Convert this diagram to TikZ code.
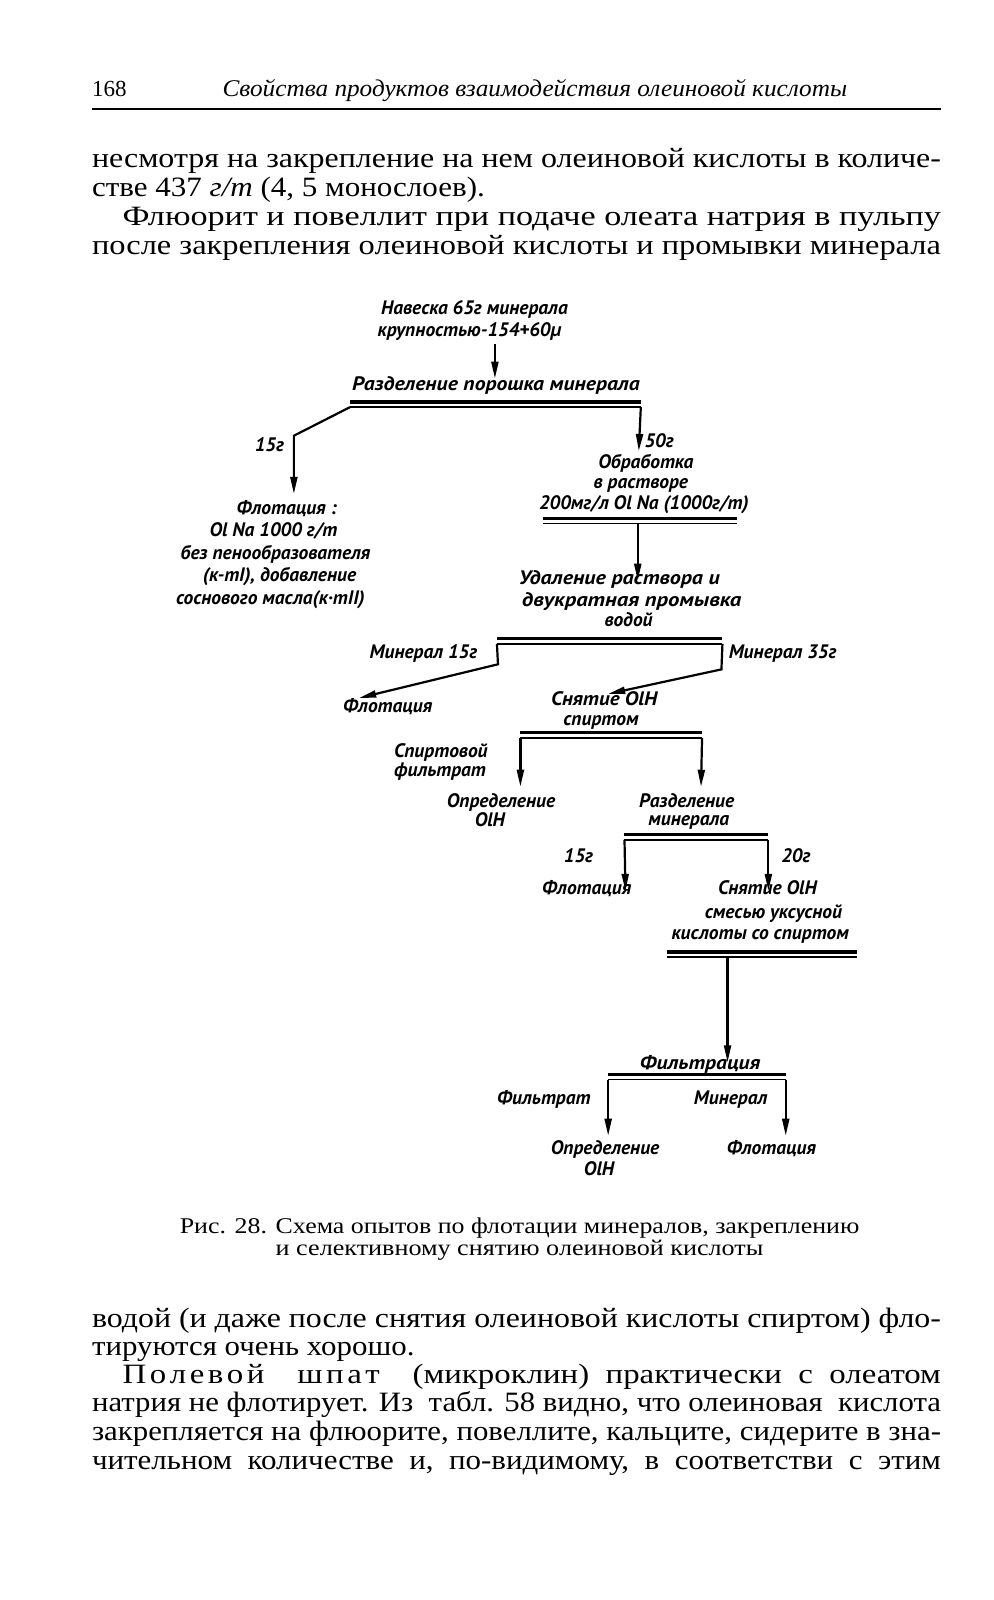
\documentclass[tikz,border=0pt]{standalone}
\usepackage{fontspec}
\usepackage{graphicx}
\setmainfont{Liberation Serif}
\newfontfamily\dfont{PT Sans}
\usetikzlibrary{arrows.meta}
\newdimen\myu \myu=1.0205pt
\newsavebox\fitbox
\newdimen\fitA \newdimen\fitB
\newcommand\fitline[2]{\sbox\fitbox{#2}\fitA=#1\relax\fitB=\wd\fitbox
  \pgfmathsetmacro\fitsx{\fitA/\fitB}\scalebox{\fitsx}[1]{\usebox\fitbox}}
\tikzset{
  body/.style={anchor=base west, inner sep=0pt, font=\fontsize{28}{28}\selectfont},
  hdr/.style={anchor=base west, inner sep=0pt, font=\fontsize{24}{28}\selectfont\itshape},
  captxt/.style={anchor=base west, inner sep=0pt, font=\fontsize{22.5}{24}\selectfont},
  lab/.style={anchor=base, inner sep=0pt, font=\dfont\itshape\bfseries\fontsize{19.5}{22}\selectfont},
  labw/.style={lab, anchor=base west},
  conn/.style={line width=2.2pt, -{Triangle[length=17pt,width=7pt]}},
  barA/.style={line width=3.4pt},
  barB/.style={line width=1.5pt},
  rule/.style={line width=1.4pt}
}
\newcommand\dbar[4]{%
  \coordinate (#1L) at (#2,#4+5);
  \coordinate (#1R) at (#3,#4+5);
  \draw[barA] (#2,#4) -- (#3,#4);
  \draw[barB] (#1L) -- (#1R);}
\begin{document}
\begin{tikzpicture}[x=1.0205pt, y=-1.0205pt]
\fill[white] (0,0) rectangle (974,1568);
\useasboundingbox (0,0) rectangle (974,1568);

% header
\node[body, font=\fontsize{23}{28}\selectfont] (pg) at (90,95) {168};
\node[hdr] (hd) at (218,95) {\fitline{612\myu}{Свойства продуктов взаимодействия олеиновой кислоты}};
\coordinate (r1) at (90,107); \coordinate (r2) at (922,107);
\draw[rule] (r1) -- (r2);

% upper text
\node[body] (p1) at (90,164) {\fitline{832\myu}{несмотря на закрепление на нем олеиновой кислоты в количе-}};
\node[body] (p2) at (90,193) {\fitline{385\myu}{стве 437 \textit{г/т} (4, 5 монослоев).}};
\node[body] (p3) at (120,221) {\fitline{802\myu}{Флюорит и повеллит при подаче олеата натрия в пульпу}};
\node[body] (p4) at (90,249) {\fitline{832\myu}{после закрепления олеиновой кислоты и промывки минерала}};

% ---------- diagram ----------
\node[lab] (nav1) at (465,308) {Навеска 65г минерала};
\node[lab] (nav2) at (460,330) {крупностью-154+60µ};
\coordinate (a1s) at (485,337); \coordinate (a1e) at (485,371);
\draw[conn] (a1s) -- (a1e);
\node[lab] (razd) at (486,383) {\fitline{282\myu}{Разделение порошка минерала}};
\dbar{b1}{343}{628}{394}
\coordinate (k1) at (288,427); \coordinate (t1) at (288,484);
\draw[conn] (b1L) -- (k1) -- (t1);
\node[lab] (g15a) at (264,442) {15г};
\coordinate (t2) at (626,442);
\draw[conn] (b1R) -- (t2);
\node[lab] (g50) at (646,439) {50г};

\node[lab] (fl1a) at (281,504) {Флотация :};
\node[lab] (fl1b) at (268,526) {Ol Na 1000 г/т};
\node[lab] (fl1c) at (270,548) {без пенообразователя};
\node[lab] (fl1d) at (274,570) {(к-тI), добавление};
\node[lab] (fl1e) at (265,592) {соснового масла(к·тII)};

\node[lab] (ob1) at (633,459) {Обработка};
\node[lab] (ob2) at (628,479) {в растворе};
\node[lab] (ob3) at (631,499) {200мг/л Ol Na (1000г/т)};
\dbar{b2}{532}{722}{508}
\coordinate (a2s) at (625,513); \coordinate (a2e) at (625,569);
\draw[conn] (a2s) -- (a2e);

\node[lab] (ud1) at (607,573) {\fitline{197\myu}{Удаление раствора и}};
\node[lab] (ud2) at (619,594) {\fitline{215\myu}{двукратная промывка}};
\node[lab] (ud3) at (616,614) {водой};
\dbar{b3}{487}{708}{626}
\coordinate (k3) at (488,651); \coordinate (t3) at (352,684);
\draw[conn] (b3L) -- (k3) -- (t3);
\coordinate (k4) at (707,656); \coordinate (t4) at (596,680);
\draw[conn] (b3R) -- (k4) -- (t4);
\node[lab] (min15) at (415,645) {Минерал 15г};
\node[lab] (min35) at (767,645) {Минерал 35г};
\node[lab] (fl2) at (380,698) {Флотация};
\node[lab] (sn1) at (592,691) {\fitline{104\myu}{Снятие OlH}};
\node[lab] (sn2) at (589,711) {спиртом};

\dbar{b4}{510}{688}{718}
\coordinate (t5) at (510,771); \coordinate (t6) at (687,771);
\draw[conn] (b4L) -- (t5);
\draw[conn] (b4R) -- (t6);
\node[labw] (sf1) at (386,742) {Спиртовой};
\node[labw] (sf2) at (386,761) {фильтрат};
\node[lab] (op1a) at (491,791) {Определение};
\node[lab] (op1b) at (480,810) {OlH};
\node[lab] (rz1) at (673,791) {Разделение};
\node[lab] (rz2) at (675,809) {минерала};

\dbar{b5}{612}{753}{818}
\coordinate (t7) at (613,873); \coordinate (t8) at (753,873);
\draw[conn] (b5L) -- (t7);
\draw[conn] (b5R) -- (t8);
\node[lab] (g15b) at (567,845) {15г};
\node[lab] (g20) at (780,845) {20г};
\node[lab] (fl3) at (575,877) {Флотация};
\node[lab] (sx1) at (752,877) {Снятие OlH};
\node[lab] (sx2) at (758,900) {смесью уксусной};
\node[lab] (sx3) at (745,921) {кислоты со спиртом};

\dbar{b6}{654}{840}{933}
\coordinate (a6s) at (713,938); \coordinate (a6e) at (713,1041);
\draw[conn] (a6s) -- (a6e);
\node[lab] (filt) at (686,1048) {\fitline{118\myu}{Фильтрация}};
\dbar{b7}{596}{770}{1053}
\coordinate (t9) at (596,1113); \coordinate (t10) at (770,1113);
\draw[conn] (b7L) -- (t9);
\draw[conn] (b7R) -- (t10);
\node[lab] (fr) at (533,1082) {Фильтрат};
\node[lab] (mn) at (716,1082) {Минерал};
\node[lab] (op2a) at (593,1131) {Определение};
\node[lab] (op2b) at (587,1152) {OlH};
\node[lab] (fl4) at (756,1131) {Флотация};

% caption
\node[captxt] (c1) at (176,1209) {\fitline{666\myu}{Рис. 28. Схема опытов по флотации минералов, закреплению}};
\node[captxt] (c2) at (270,1230) {\fitline{478\myu}{и селективному снятию олеиновой кислоты}};

% lower text
\node[body] (q1) at (90,1301) {\fitline{832\myu}{водой (и даже после снятия олеиновой кислоты спиртом) фло-}};
\node[body] (q2) at (90,1328) {\fitline{316\myu}{тируются очень хорошо.}};
\node[body] (q3) at (120,1356) {\fitline{802\myu}{П\kern3pt о\kern3pt л\kern3pt е\kern3pt в\kern3pt о\kern3pt й\quad ш\kern3pt п\kern3pt а\kern3pt т\quad (микроклин) \ практически \ с \ олеатом}};
\node[body] (q4) at (90,1383) {\fitline{832\myu}{натрия не флотирует. Из \ табл. 58 видно, что олеиновая \ кислота}};
\node[body] (q5) at (90,1412) {\fitline{832\myu}{закрепляется на флюорите, повеллите, кальците, сидерите в зна-}};
\node[body] (q6) at (90,1440) {\fitline{832\myu}{чительном \ количестве \ и, \ по-видимому, \ в \ соответстви \ с \ этим}};
\end{tikzpicture}
\end{document}
